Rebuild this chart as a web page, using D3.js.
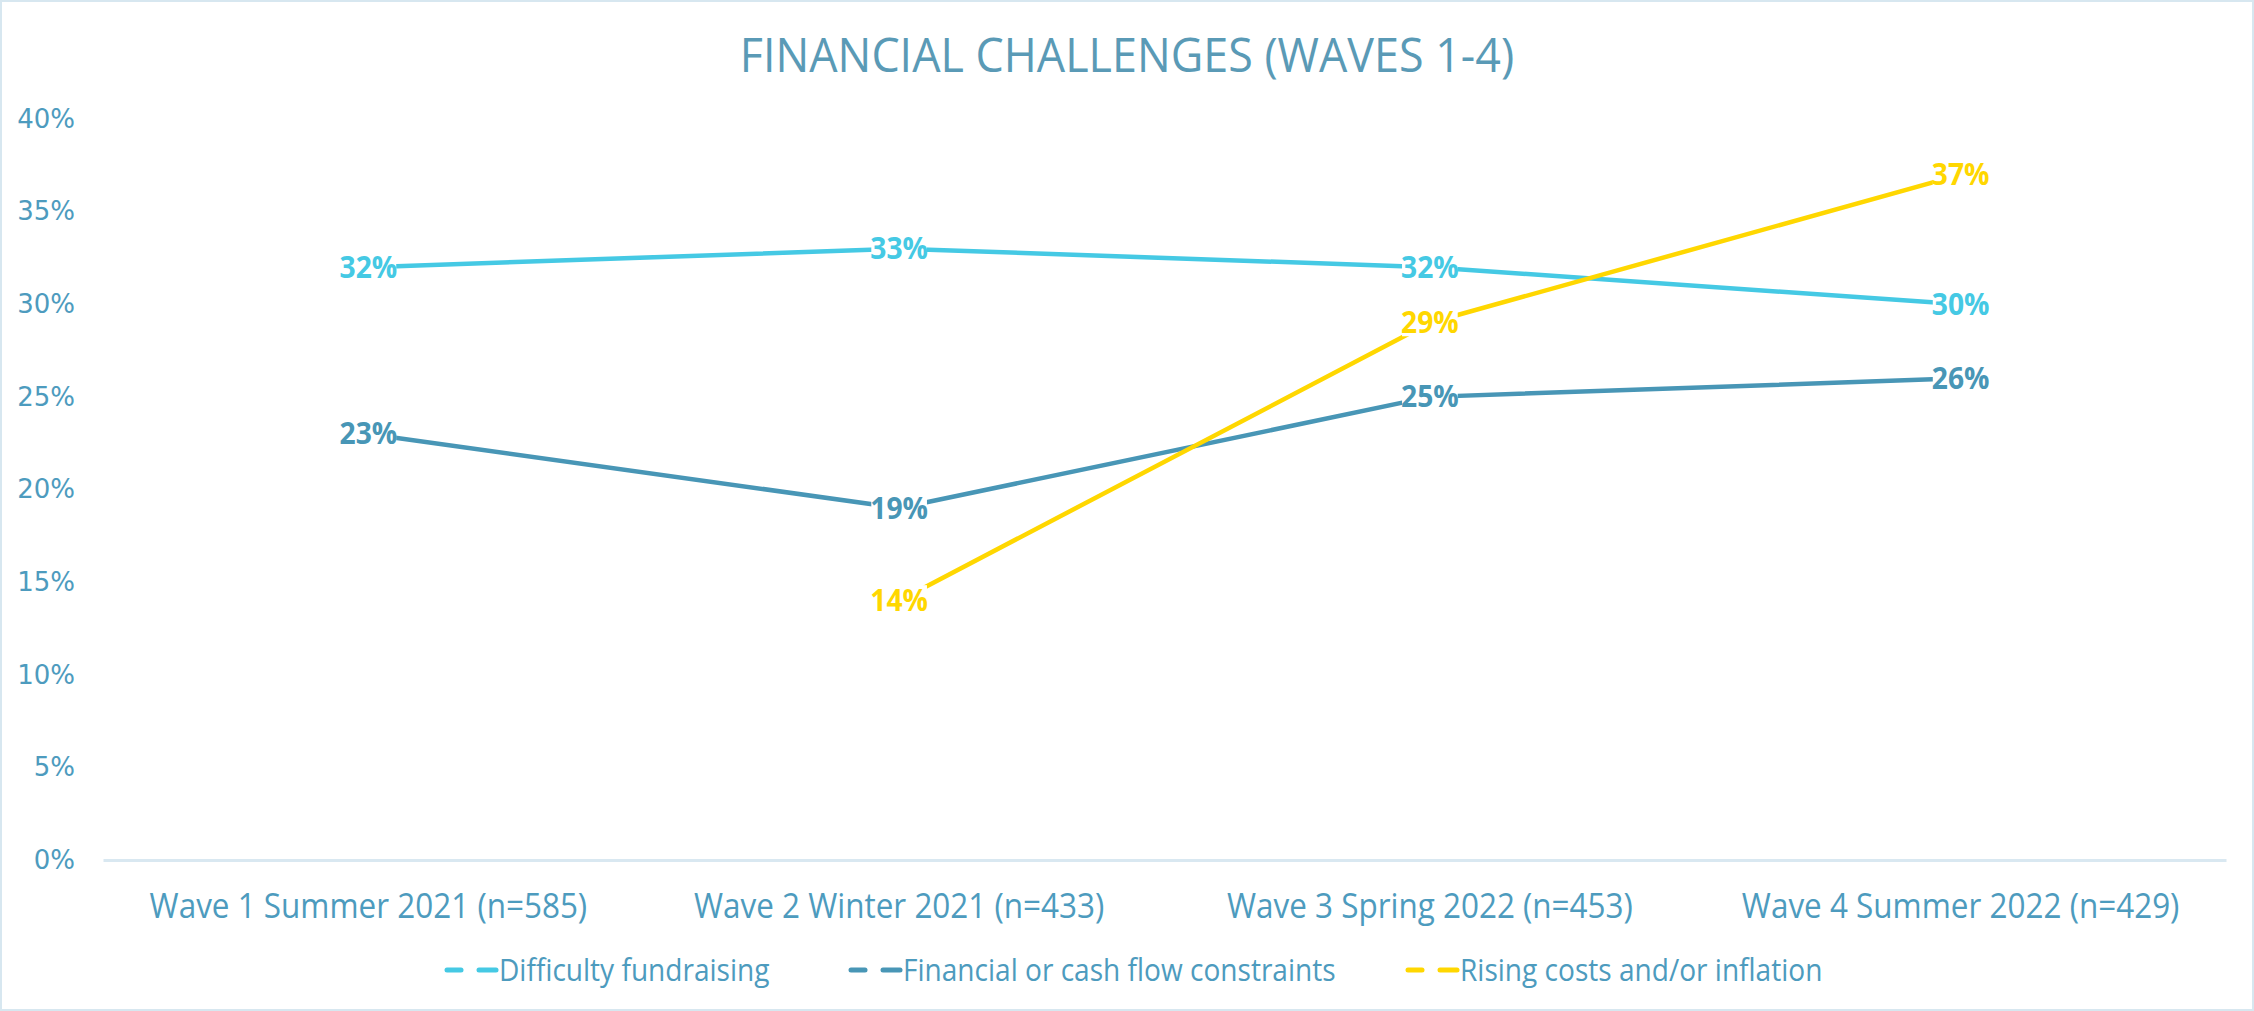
<!DOCTYPE html>
<html>
<head>
<meta charset="utf-8">
<script src="https://cdn.jsdelivr.net/npm/d3@7"></script>
<style>
  html, body { margin: 0; padding: 0; background: #fff; }
  svg { display: block; }
</style>
</head>
<body>
<script>
// ---- data ----
const categories = ["Wave 1 Summer 2021 (n=585)", "Wave 2 Winter 2021 (n=433)", "Wave 3 Spring 2022 (n=453)", "Wave 4 Summer 2022 (n=429)"];
const seriesNames = ["Difficulty fundraising", "Financial or cash flow constraints", "Rising costs and/or inflation"];
const difficultyFundraising = [0.32, 0.33, 0.32, 0.30];
const cashFlowConstraints = [0.23, 0.19, 0.25, 0.26];
const risingCosts = [null, 0.14, 0.29, 0.37];
const yTicks = [0, 0.05, 0.10, 0.15, 0.20, 0.25, 0.30, 0.35, 0.40];
const titleText = "FINANCIAL CHALLENGES (WAVES 1-4)";

const colors = ["#45C9E4", "#4896B6", "#FFD700"];
const seriesValues = [difficultyFundraising, cashFlowConstraints, risingCosts];

const W = 2254, H = 1011;
const margin = { left: 103, right: W - 2226, top: 119, bottom: H - 860 };
const textColor = "#4D9BBE";
const narrowFont = "'Open Sans', sans-serif";

const svg = d3.select("body").append("svg").attr("width", W).attr("height", H);

// chart border
svg.append("rect").attr("x", 1).attr("y", 1).attr("width", W - 2).attr("height", H - 2)
  .attr("fill", "#fff").attr("stroke", "#D7E7F0").attr("stroke-width", 2);

const x = d3.scaleBand().domain(categories).range([margin.left, W - margin.right]);
const y = d3.scaleLinear().domain([0, 0.4]).range([H - margin.bottom, margin.top]);

function condense(sel, k) {
  sel.each(function () {
    const len = this.getComputedTextLength();
    d3.select(this).attr("textLength", len * k).attr("lengthAdjust", "spacingAndGlyphs");
  });
}

// title
svg.append("text").attr("x", 1127).attr("y", 72).attr("text-anchor", "middle")
  .attr("font-family", narrowFont).attr("font-size", 48).attr("fill", "#5A9AB6")
  .text(titleText).call(condense, 0.934);

// y axis (labels only)
const yAxis = d3.axisLeft(y).tickValues(yTicks).tickFormat(d3.format(".0%")).tickSize(0).tickPadding(0);
const gy = svg.append("g").attr("transform", `translate(75,0)`).call(yAxis);
gy.select(".domain").remove();
gy.selectAll("text").attr("font-family", "'DejaVu Sans', sans-serif").attr("font-size", 26)
  .attr("fill", textColor);

// x axis
const xAxis = d3.axisBottom(x).tickSize(0).tickPadding(0);
const gx = svg.append("g").attr("transform", `translate(0,${H - margin.bottom})`).call(xAxis);
gx.select(".domain").attr("stroke", "#D9E8F1").attr("stroke-width", 3);
gx.selectAll("text").attr("font-family", narrowFont).attr("font-size", 34)
  .attr("fill", textColor).attr("dy", null).attr("y", 58).call(condense, 0.925);

// lines
const cx = d => x(d) + x.bandwidth() / 2;
const line = d3.line().defined(d => d.v !== null).x(d => cx(d.c)).y(d => y(d.v));
seriesValues.forEach((vals, i) => {
  const pts = categories.map((c, j) => ({ c, v: vals[j] }));
  svg.append("path").datum(pts).attr("d", line).attr("fill", "none")
    .attr("stroke", colors[i]).attr("stroke-width", 4.5).attr("stroke-linejoin", "round");
});

// data labels
seriesValues.forEach((vals, i) => {
  categories.forEach((c, j) => {
    if (vals[j] === null) return;
    const g = svg.append("g");
    const t = g.append("text").attr("x", cx(c)).attr("y", y(vals[j])).attr("dy", "0.35em")
      .attr("text-anchor", "middle").attr("font-family", narrowFont).attr("font-weight", 700)
      .attr("font-size", 30).attr("fill", colors[i]).text(d3.format(".0%")(vals[j]));
    t.call(condense, 0.94);
    const bb = t.node().getBBox();
    g.insert("rect", "text").attr("x", bb.x + 1).attr("y", bb.y + 6).attr("width", bb.width - 2)
      .attr("height", bb.height - 12).attr("fill", "#fff");
  });
});

// legend
const legendTextX = [499, 903, 1460];
seriesNames.forEach((name, i) => {
  const g = svg.append("g").attr("transform", `translate(${legendTextX[i]},970)`);
  g.append("line").attr("x1", -52).attr("x2", -38).attr("y1", 0).attr("y2", 0)
    .attr("stroke", colors[i]).attr("stroke-width", 5).attr("stroke-linecap", "round");
  g.append("line").attr("x1", -20).attr("x2", -3).attr("y1", 0).attr("y2", 0)
    .attr("stroke", colors[i]).attr("stroke-width", 5).attr("stroke-linecap", "round");
  g.append("text").attr("x", 0).attr("y", 11).attr("font-family", narrowFont).attr("font-size", 31)
    .attr("fill", textColor).text(name).call(condense, 0.905);
});
</script>
</body>
</html>
